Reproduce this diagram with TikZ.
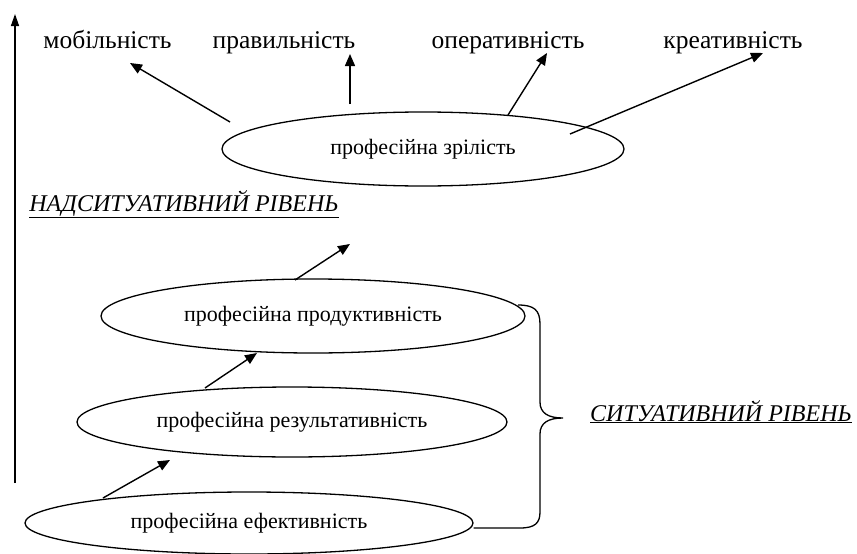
\documentclass[tikz,border=0pt]{standalone}
\usepackage{fontspec}
\setmainfont{Liberation Serif}[ItalicFont={Liberation Serif Italic}]
\usetikzlibrary{arrows.meta,shapes.geometric}
\begin{document}
\begin{tikzpicture}[x=1pt,y=-1pt,
  oval/.style={ellipse,draw,line width=1.3pt,inner sep=0pt,font=\fontsize{22}{26}\selectfont},
  toplabel/.style={anchor=base,inner sep=0pt,font=\fontsize{25.5}{30}\selectfont},
  level/.style={anchor=base,inner sep=0pt,font=\itshape\fontsize{24}{28}\selectfont},
  arr/.style={-{Triangle[length=12pt,width=10pt]},line width=1.4pt},
  axis/.style={-{Triangle[length=12pt,width=8pt]},line width=1.4pt},
  brace/.style={line width=1.3pt}]
\useasboundingbox (0,0) rectangle (857,554);
\fill[white] (0,0) rectangle (857,554);
% ellipses
\node[oval,minimum width=402pt,minimum height=74pt] (e1) at (423,149) {професійна зрілість};
\node[oval,minimum width=424pt,minimum height=74pt] (e2) at (313,316) {професійна продуктивність};
\node[oval,minimum width=430pt,minimum height=70pt] (e3) at (292,422) {професійна результативність};
\node[oval,minimum width=448pt,minimum height=62pt] (e4) at (249,523) {професійна ефективність};
% top labels
\node[toplabel] (mob) at (107.5,48) {мобільність};
\node[toplabel] (prav) at (284,48) {правильність};
\node[toplabel] (oper) at (508,48) {оперативність};
\node[toplabel] (kreat) at (733,48) {креативність};
% level labels
\node[level] (nad) at (184,211) {\underline{НАДСИТУАТИВНИЙ РІВЕНЬ}};
\node[level] (sit) at (721,421) {\underline{СИТУАТИВНИЙ РІВЕНЬ}};
% arrow end points
\coordinate (t1) at (230,122); \coordinate (h1) at (130,63);
\coordinate (t2) at (350,104); \coordinate (h2) at (350,54);
\coordinate (t3) at (508,115); \coordinate (h3) at (547,53);
\coordinate (t4) at (570,134); \coordinate (h4) at (763,53);
\coordinate (t5) at (295,280); \coordinate (h5) at (350,244);
\coordinate (t6) at (205,388); \coordinate (h6) at (257,353);
\coordinate (t7) at (103,498); \coordinate (h7) at (170,460);
\coordinate (ax0) at (15,483); \coordinate (ax1) at (15,14);
\draw[arr] (t1) -- (h1);
\draw[arr] (t2) -- (h2);
\draw[arr] (t3) -- (h3);
\draw[arr] (t4) -- (h4);
\draw[arr] (t5) -- (h5);
\draw[arr] (t6) -- (h6);
\draw[arr] (t7) -- (h7);
\draw[axis] (ax0) -- (ax1);
% brace
\coordinate (b0) at (518,305);
\draw[brace] (b0) .. controls (534,305) and (540,310) .. (540,324) -- (540,402)
  .. controls (540,413) and (548,418) .. (563,418)
  .. controls (548,418) and (540,423) .. (540,434) -- (540,512)
  .. controls (540,523) and (535,528) .. (520,528) -- (e4.east |- 0,528);
\end{tikzpicture}
\end{document}
